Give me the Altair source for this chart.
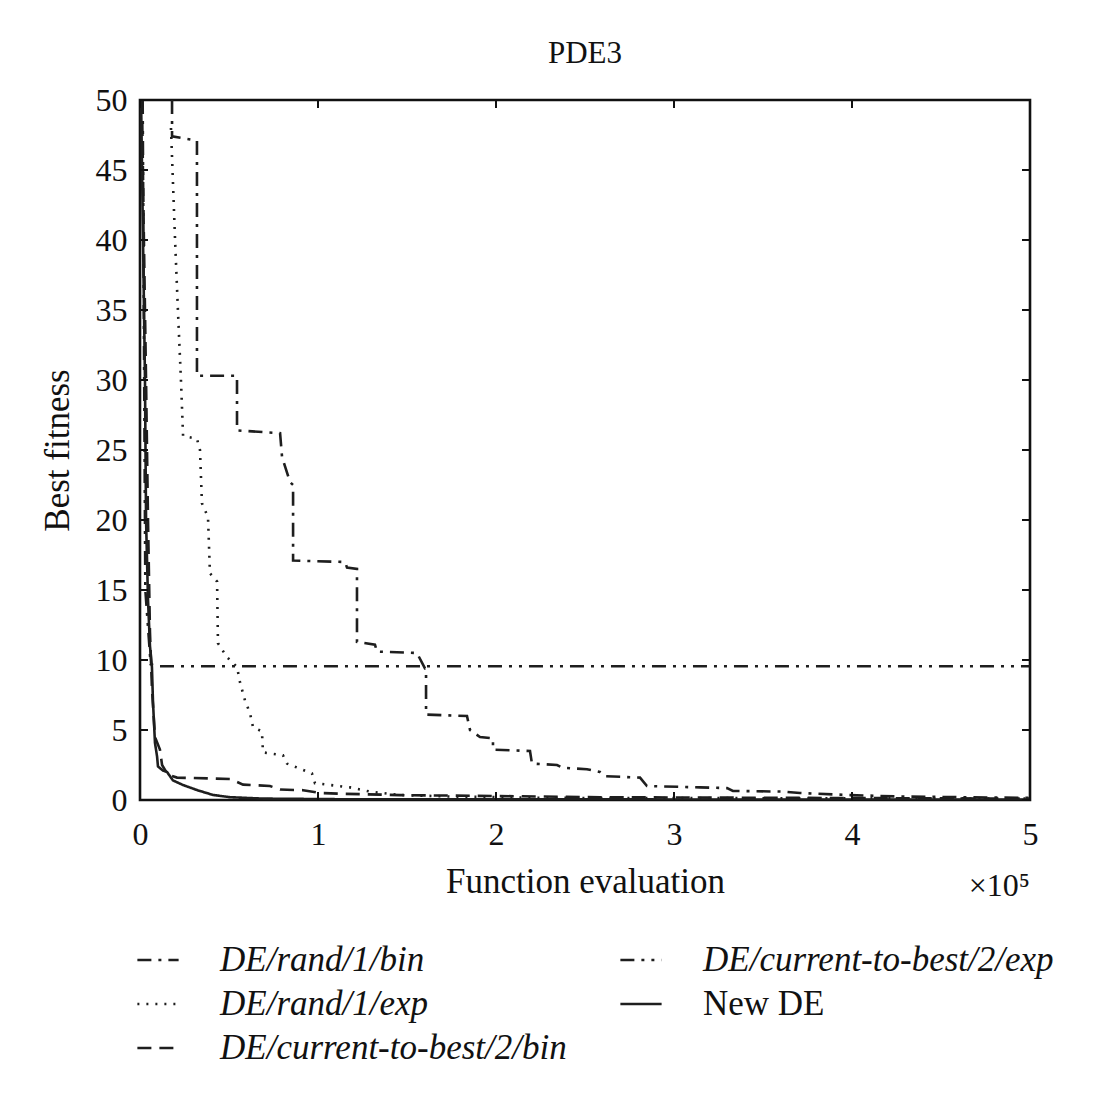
import altair as alt
import pandas as pd

# x values are in units of 10^5 function evaluations
series_names = ["DE/rand/1/bin", "DE/rand/1/exp", "DE/current-to-best/2/bin", "DE/current-to-best/2/exp", "New DE"]

x_rand1bin = [0.180, 0.180, 0.320, 0.320, 0.545, 0.545, 0.787, 0.798, 0.843, 0.860, 0.860, 1.152, 1.163, 1.219, 1.219,
              1.320, 1.331, 1.556, 1.601, 1.607, 1.607, 1.837, 1.854, 1.910, 1.983, 1.983, 2.191, 2.202, 2.343, 2.376,
              2.511, 2.584, 2.612, 2.809, 2.848, 3.146, 3.298, 3.331, 3.612, 3.708, 3.893, 3.989, 4.270, 5.0]
y_rand1bin = [50, 47.4, 47.1, 30.3, 30.3, 26.4, 26.2, 24.5, 22.7, 22.5, 17.1, 17.0, 16.6, 16.5, 11.3,
              11.1, 10.6, 10.5, 9.4, 9.4, 6.1, 6.0, 5.0, 4.5, 4.4, 3.6, 3.5, 2.6, 2.5, 2.3,
              2.2, 2.0, 1.7, 1.6, 1.0, 0.9, 0.85, 0.65, 0.6, 0.5, 0.4, 0.35, 0.25, 0.15]

x_rand1exp = [0.174, 0.197, 0.213, 0.230, 0.242, 0.320, 0.337, 0.348, 0.382, 0.393, 0.433, 0.438, 0.489, 0.545, 0.562,
              0.590, 0.618, 0.635, 0.685, 0.691, 0.803, 0.826, 0.966, 0.983, 1.180, 1.292, 1.461, 1.742, 2.303, 5.0]
y_rand1exp = [48.0, 40, 35, 30, 26.0, 25.8, 25.0, 21.2, 20.2, 16.2, 15.6, 11.2, 10.2, 9.5, 8.4,
              7.1, 6.2, 5.2, 4.9, 3.4, 3.2, 2.6, 1.9, 1.2, 0.9, 0.6, 0.35, 0.25, 0.15, 0.1]

x_ctb2bin = [0.011, 0.022, 0.034, 0.045, 0.056, 0.067, 0.084, 0.112, 0.124, 0.157, 0.208, 0.506, 0.579, 0.730, 0.787,
             0.916, 1.011, 1.124, 1.461, 2.022, 2.584, 3.708, 5.0]
y_ctb2bin = [50, 40, 30, 20, 12, 8, 4.5, 3.6, 2.5, 1.8, 1.6, 1.5, 1.1, 1.0, 0.75,
             0.7, 0.5, 0.45, 0.35, 0.28, 0.2, 0.15, 0.1]

x_ctb2exp = [0.015, 0.03, 0.06, 0.10, 5.0]
y_ctb2exp = [50, 15, 9.7, 9.55, 9.55]

x_newde = [0.006, 0.017, 0.028, 0.034, 0.045, 0.056, 0.067, 0.073, 0.084, 0.096, 0.101, 0.129, 0.152, 0.185, 0.242,
           0.320, 0.410, 0.506, 0.691, 1.180, 5.0]
y_newde = [50, 40, 30, 20, 14.3, 11, 9.5, 7, 4.1, 3.1, 2.4, 2.1, 2.0, 1.4, 1.07,
           0.71, 0.36, 0.2, 0.1, 0.05, 0.03]

x_ticks = [0, 1, 2, 3, 4, 5]
y_ticks = [0, 5, 10, 15, 20, 25, 30, 35, 40, 45, 50]

dash_styles = [[14, 7, 3, 7], [2, 7], [14, 8], [14, 7, 3, 7, 3, 7], [1, 0]]

rows = []
for name, xs, ys in [
    ("DE/rand/1/bin", x_rand1bin, y_rand1bin),
    ("DE/rand/1/exp", x_rand1exp, y_rand1exp),
    ("DE/current-to-best/2/bin", x_ctb2bin, y_ctb2bin),
    ("DE/current-to-best/2/exp", x_ctb2exp, y_ctb2exp),
    ("New DE", x_newde, y_newde),
]:
    for i, (xv, yv) in enumerate(zip(xs, ys)):
        rows.append({"series": name, "x": xv, "y": yv, "order": i})
df = pd.DataFrame(rows)

W, H = 890, 700
FONT = "Liberation Serif"

xscale = alt.Scale(domain=[0, 5], nice=False, zero=False)
yscale = alt.Scale(domain=[0, 50], nice=False)

lines = alt.Chart(df).mark_line(strokeWidth=2.6, color="#1e1e1e", clip=True).encode(
    x=alt.X("x:Q", scale=xscale,
            axis=alt.Axis(values=x_ticks, format="d", title="Function evaluation", grid=False, ticks=False,
                          domain=False, labelFontSize=32, labelFont=FONT, labelColor="#111", labelFlush=False,
                          labelPadding=19, titleFont=FONT, titleFontSize=35, titleFontWeight="normal",
                          titleColor="#111", titlePadding=14)),
    y=alt.Y("y:Q", scale=yscale,
            axis=alt.Axis(values=y_ticks, format="d", title="Best fitness", grid=False, ticks=False,
                          domain=False, labelFontSize=32, labelFont=FONT, labelColor="#111", labelFlush=False,
                          labelPadding=13, titleFont=FONT, titleFontSize=35, titleFontWeight="normal",
                          titleColor="#111", titlePadding=20)),
    strokeDash=alt.StrokeDash(
        "series:N",
        scale=alt.Scale(domain=series_names, range=dash_styles),
        legend=alt.Legend(
            title=None, orient="none", legendX=-4, legendY=838, columns=2,
            symbolType="stroke", symbolSize=1700, symbolStrokeWidth=2.4,
            symbolStrokeColor="#1e1e1e", labelFont=FONT, labelFontSize=35,
            labelFontStyle={"expr": "datum.value === 'New DE' ? 'normal' : 'italic'"},
            labelColor="#111", labelOffset=40, rowPadding=4, columnPadding=48,
            labelLimit=600,
        ),
    ),
    order="order:Q",
)

tdf_x = pd.DataFrame({"t": x_ticks})
tdf_y = pd.DataFrame({"t": y_ticks})

xt_bottom = alt.Chart(tdf_x).mark_rule(color="#111", strokeWidth=2).encode(
    x=alt.X("t:Q", scale=xscale), y=alt.value(H), y2=alt.value(H - 8))
xt_top = alt.Chart(tdf_x).mark_rule(color="#111", strokeWidth=2).encode(
    x=alt.X("t:Q", scale=xscale), y=alt.value(0), y2=alt.value(8))
yt_left = alt.Chart(tdf_y).mark_rule(color="#111", strokeWidth=2).encode(
    y=alt.Y("t:Q", scale=yscale), x=alt.value(0), x2=alt.value(8))
yt_right = alt.Chart(tdf_y).mark_rule(color="#111", strokeWidth=2).encode(
    y=alt.Y("t:Q", scale=yscale), x=alt.value(W), x2=alt.value(W - 8))

exp_label = alt.Chart(pd.DataFrame({"t": ["×10⁵"]})).mark_text(
    font=FONT, fontSize=32, color="#111", align="right", baseline="middle"
).encode(text="t:N", x=alt.value(W), y=alt.value(H + 86))

chart = alt.layer(lines, xt_bottom, xt_top, yt_left, yt_right, exp_label).properties(
    width=W, height=H,
    title=alt.Title("PDE3", font=FONT, fontSize=31, fontWeight="normal", color="#111", offset=14),
    autosize=alt.AutoSizeParams(type="none"),
    padding={"left": 132, "top": 92, "right": 60, "bottom": 300},
    background="white",
).configure_view(stroke="#111", strokeWidth=2.6)

chart.save("out.html", embed_options={"renderer": "svg", "actions": False})
